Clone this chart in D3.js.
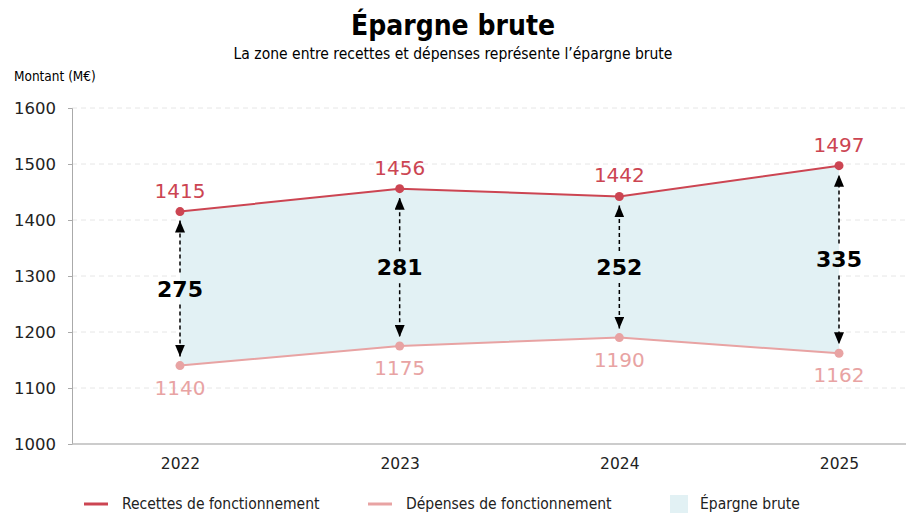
<!DOCTYPE html>
<html>
<head>
<meta charset="utf-8">
<script src="https://cdn.jsdelivr.net/npm/d3@7"></script>
<style>
  body { margin: 0; background: #fff; }
  svg { display: block; }
</style>
</head>
<body>
<svg width="906" height="514"></svg>
<script>
var years = ["2022", "2023", "2024", "2025"];
var recettes = [1415, 1456, 1442, 1497];
var depenses = [1140, 1175, 1190, 1162];
var yTicks = [1000, 1100, 1200, 1300, 1400, 1500, 1600];

var redColor = "#cc4552",
    pinkColor = "#e8a3a3",
    areaColor = "#e2f1f4",
    narrow = "'Liberation Sans Narrow', 'DejaVu Sans Condensed', sans-serif",
    sans = "'DejaVu Sans', sans-serif";

var svg = d3.select("svg"),
    width = 906,
    plotLeft = 72, plotRight = 906, plotTop = 108, plotBottom = 444;

var data = years.map(function(yr, i) {
    return { year: yr, rec: recettes[i], dep: depenses[i], ep: recettes[i] - depenses[i] };
});

var x = d3.scalePoint().domain(years).range([180, 839]);
var y = d3.scaleLinear().domain([1000, 1600]).range([plotBottom, plotTop]);

// arrow markers
var defs = svg.append("defs");
defs.append("marker")
    .attr("id", "arrow")
    .attr("viewBox", "0 0 12 10")
    .attr("refX", 12).attr("refY", 5)
    .attr("markerWidth", 12).attr("markerHeight", 10)
    .attr("markerUnits", "userSpaceOnUse")
    .attr("orient", "auto-start-reverse")
    .append("path")
    .attr("d", "M0,0 L12,5 L0,10 Z")
    .attr("fill", "#000");

// title
svg.append("text")
    .attr("x", width / 2).attr("y", 35)
    .attr("text-anchor", "middle")
    .style("font-family", narrow).style("font-weight", "bold").style("font-size", "28px")
    .text("Épargne brute");
svg.append("text")
    .attr("x", width / 2).attr("y", 59)
    .attr("text-anchor", "middle")
    .style("font-family", narrow).style("font-size", "15.5px")
    .text("La zone entre recettes et dépenses représente l’épargne brute");
svg.append("text")
    .attr("x", 14).attr("y", 81)
    .style("font-family", narrow).style("font-size", "13.5px")
    .text("Montant (M€)");

// grid
svg.append("g").selectAll("line")
    .data(yTicks.filter(function(d) { return d > 1000; }))
    .enter().append("line")
    .attr("x1", plotLeft).attr("x2", plotRight)
    .attr("y1", function(d) { return y(d); })
    .attr("y2", function(d) { return y(d); })
    .attr("stroke", "#e6e6e6")
    .attr("stroke-dasharray", "5,4");

// y axis
var yAxis = svg.append("g")
    .attr("transform", "translate(" + plotLeft + ",0)")
    .call(d3.axisLeft(y).tickValues(yTicks).tickFormat(d3.format("d")).tickSize(4).tickPadding(12));
yAxis.select(".domain").attr("stroke", "#aaa");
yAxis.selectAll(".tick line").attr("stroke", "#aaa");
yAxis.selectAll(".tick text")
    .style("font-family", sans).style("font-size", "16.5px").attr("fill", "#222");

// x axis
var xAxis = svg.append("g")
    .attr("transform", "translate(0," + plotBottom + ")")
    .call(d3.axisBottom(x).tickSize(0).tickPadding(14));
xAxis.select(".domain").attr("d", "M" + plotLeft + ",0H" + plotRight).attr("stroke", "#bbb").attr("stroke-width", 1.5);
xAxis.selectAll(".tick text")
    .style("font-family", sans).style("font-size", "15.5px").attr("fill", "#222");

// area
var area = d3.area()
    .x(function(d) { return x(d.year); })
    .y0(function(d) { return y(d.dep); })
    .y1(function(d) { return y(d.rec); });
svg.append("path").datum(data)
    .attr("d", area)
    .attr("fill", areaColor);

// lines
var lineRec = d3.line().x(function(d) { return x(d.year); }).y(function(d) { return y(d.rec); });
var lineDep = d3.line().x(function(d) { return x(d.year); }).y(function(d) { return y(d.dep); });

svg.append("path").datum(data)
    .attr("d", lineDep).attr("fill", "none")
    .attr("stroke", pinkColor).attr("stroke-width", 2);
svg.append("path").datum(data)
    .attr("d", lineRec).attr("fill", "none")
    .attr("stroke", redColor).attr("stroke-width", 2);

svg.append("g").selectAll("circle")
    .data(data).enter().append("circle")
    .attr("cx", function(d) { return x(d.year); })
    .attr("cy", function(d) { return y(d.dep); })
    .attr("r", 4.5).attr("fill", pinkColor);
svg.append("g").selectAll("circle")
    .data(data).enter().append("circle")
    .attr("cx", function(d) { return x(d.year); })
    .attr("cy", function(d) { return y(d.rec); })
    .attr("r", 4.5).attr("fill", redColor);

// value labels
svg.append("g").selectAll("text")
    .data(data).enter().append("text")
    .attr("x", function(d) { return x(d.year); })
    .attr("y", function(d) { return y(d.rec) - 14; })
    .attr("text-anchor", "middle")
    .style("font-family", sans).style("font-size", "20px")
    .attr("fill", redColor)
    .text(function(d) { return d.rec; });
svg.append("g").selectAll("text")
    .data(data).enter().append("text")
    .attr("x", function(d) { return x(d.year); })
    .attr("y", function(d) { return y(d.dep) + 29; })
    .attr("text-anchor", "middle")
    .style("font-family", sans).style("font-size", "20px")
    .attr("fill", pinkColor)
    .text(function(d) { return d.dep; });

// dashed arrows with gap for label
var arrows = svg.append("g").selectAll("g")
    .data(data).enter().append("g");
arrows.append("line")
    .attr("x1", function(d) { return x(d.year); })
    .attr("x2", function(d) { return x(d.year); })
    .attr("y1", function(d) { return (y(d.rec) + y(d.dep)) / 2 - 16; })
    .attr("y2", function(d) { return y(d.rec) + 9; })
    .attr("stroke", "#000").attr("stroke-width", 1.5)
    .attr("stroke-dasharray", "4,3")
    .attr("marker-end", "url(#arrow)");
arrows.append("line")
    .attr("x1", function(d) { return x(d.year); })
    .attr("x2", function(d) { return x(d.year); })
    .attr("y1", function(d) { return (y(d.rec) + y(d.dep)) / 2 + 16; })
    .attr("y2", function(d) { return y(d.dep) - 9; })
    .attr("stroke", "#000").attr("stroke-width", 1.5)
    .attr("stroke-dasharray", "4,3")
    .attr("marker-end", "url(#arrow)");
arrows.append("text")
    .attr("x", function(d) { return x(d.year); })
    .attr("y", function(d) { return (y(d.rec) + y(d.dep)) / 2 + 8; })
    .attr("text-anchor", "middle")
    .style("font-family", sans).style("font-weight", "bold").style("font-size", "22px")
    .attr("fill", "#000")
    .text(function(d) { return d.ep; });

// legend
var legend = svg.append("g").attr("transform", "translate(0,504)");
var items = [
    { label: "Recettes de fonctionnement", type: "line", color: redColor, x: 84 },
    { label: "Dépenses de fonctionnement", type: "line", color: pinkColor, x: 368 },
    { label: "Épargne brute", type: "rect", color: areaColor, x: 670 }
];
items.forEach(function(it) {
    if (it.type == "line") {
        legend.append("line")
            .attr("x1", it.x).attr("x2", it.x + 24)
            .attr("y1", 0).attr("y2", 0)
            .attr("stroke", it.color).attr("stroke-width", 3);
    } else {
        legend.append("rect")
            .attr("x", it.x).attr("y", -9)
            .attr("width", 18).attr("height", 18)
            .attr("fill", it.color);
    }
    legend.append("text")
        .attr("x", it.x + (it.type == "line" ? 38 : 30)).attr("y", 5)
        .style("font-family", narrow).style("font-size", "15.5px")
        .attr("fill", "#222")
        .text(it.label);
});
</script>
</body>
</html>
